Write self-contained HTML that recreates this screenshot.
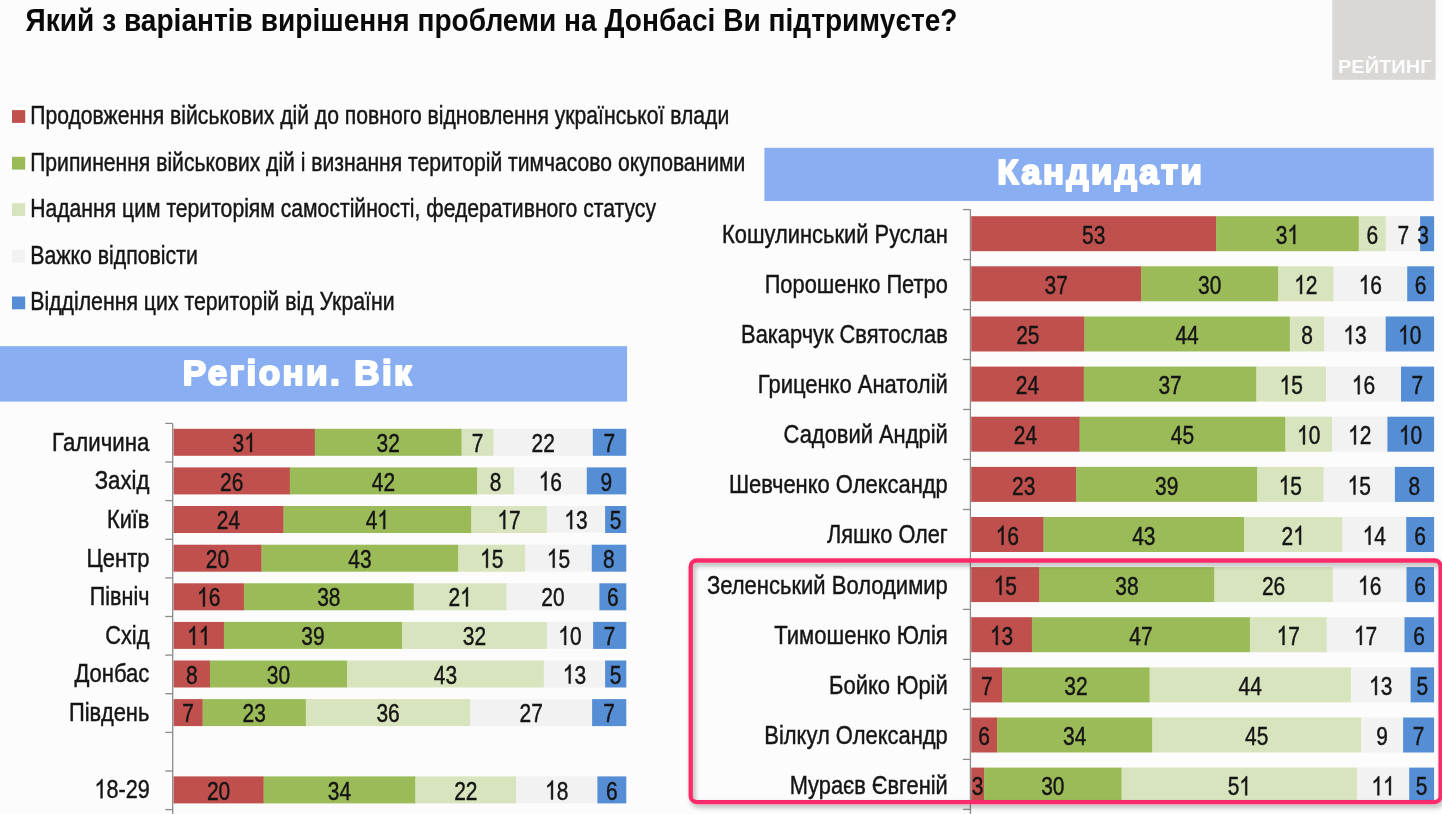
<!DOCTYPE html>
<html lang="uk"><head><meta charset="utf-8"><title>Chart</title>
<style>
html,body{margin:0;padding:0;background:#FCFCFC;}
body{width:1442px;height:814px;overflow:hidden;}
svg{display:block;font-family:"Liberation Sans",sans-serif;filter:blur(0.5px);}
</style></head><body>
<svg width="1442" height="814" viewBox="0 0 1442 814">
<defs>
<filter id="sh" x="-5%" y="-10%" width="110%" height="125%">
<feGaussianBlur in="SourceAlpha" stdDeviation="2.6"/>
<feOffset dx="1.5" dy="2.5" result="ob"/>
<feComponentTransfer><feFuncA type="linear" slope="0.32"/></feComponentTransfer>
<feMerge><feMergeNode/><feMergeNode in="SourceGraphic"/></feMerge>
</filter>
</defs>
<rect x="0" y="0" width="1442" height="814" fill="#FCFCFC"/>
<text x="25.5" y="31.2" font-weight="bold" font-size="32" textLength="932" lengthAdjust="spacingAndGlyphs" fill="#0a0a0a">Який з варіантів вирішення проблеми на Донбасі Ви підтримуєте?</text>
<rect x="1332.2" y="0" width="103.4" height="79.8" fill="#D9D8D6"/>
<text x="1338" y="73.3" font-weight="bold" font-size="18.6" textLength="93.5" lengthAdjust="spacingAndGlyphs" fill="#FBFBFB">РЕЙТИНГ</text>
<rect x="12" y="110.1" width="13.2" height="12.8" fill="#C0504D"/>
<text x="30.2" y="123.9" font-size="26" textLength="699.0" lengthAdjust="spacingAndGlyphs" fill="#151515" stroke="#151515" stroke-width="0.45">Продовження військових дій до повного відновлення української влади</text>
<rect x="12" y="156.8" width="13.2" height="12.8" fill="#9BBB59"/>
<text x="30.2" y="170.6" font-size="26" textLength="715.2" lengthAdjust="spacingAndGlyphs" fill="#151515" stroke="#151515" stroke-width="0.45">Припинення військових дій і визнання територій тимчасово окупованими</text>
<rect x="12" y="203.2" width="13.2" height="12.8" fill="#D7E4BD"/>
<text x="30.2" y="217.0" font-size="26" textLength="625.8" lengthAdjust="spacingAndGlyphs" fill="#151515" stroke="#151515" stroke-width="0.45">Надання цим територіям самостійності, федеративного статусу</text>
<rect x="12" y="249.8" width="13.2" height="12.8" fill="#F2F2F2"/>
<text x="30.2" y="263.6" font-size="26" textLength="167.6" lengthAdjust="spacingAndGlyphs" fill="#151515" stroke="#151515" stroke-width="0.45">Важко відповісти</text>
<rect x="12" y="296.5" width="13.2" height="12.8" fill="#558ED5"/>
<text x="30.2" y="310.3" font-size="26" textLength="364.4" lengthAdjust="spacingAndGlyphs" fill="#151515" stroke="#151515" stroke-width="0.45">Відділення цих територій від України</text>
<rect x="0" y="346.2" width="627.1" height="55.4" fill="#8AAEF2"/>
<text x="182.8" y="385.0" font-weight="bold" font-size="35" textLength="231.2" lengthAdjust="spacingAndGlyphs" letter-spacing="2.4" fill="#fff" stroke="#fff" stroke-width="2.1" stroke-linejoin="round">Регіони. Вік</text>
<rect x="764.4" y="147.8" width="669.4" height="53.2" fill="#8AAEF2"/>
<text x="997.2" y="184.0" font-weight="bold" font-size="35" textLength="207.0" lengthAdjust="spacingAndGlyphs" letter-spacing="2.4" fill="#fff" stroke="#fff" stroke-width="2.1" stroke-linejoin="round">Кандидати</text>
<rect x="173.5" y="428.8" width="141.6" height="27.0" fill="#C0504D"/>
<rect x="314.8" y="428.8" width="147.1" height="27.0" fill="#9BBB59"/>
<rect x="461.6" y="428.8" width="32.3" height="27.0" fill="#D7E4BD"/>
<rect x="493.6" y="428.8" width="99.5" height="27.0" fill="#F2F2F2"/>
<rect x="592.8" y="428.8" width="33.5" height="27.0" fill="#558ED5"/>
<text transform="translate(232.51,451.9) scale(0.79,1)" font-size="26.5" fill="#151515" stroke="#151515" stroke-width="0.45">3</text>
<path transform="translate(244.15,451.9) scale(0.01022,-0.01294)" d="M763 0H583V1147Q518 1085 412.5 1023T223 930V1104Q374 1175 487 1276T647 1472H763Z" fill="#151515" stroke="#151515" stroke-width="35"/>
<text transform="translate(376.56,451.9) scale(0.79,1)" font-size="26.5" fill="#151515" stroke="#151515" stroke-width="0.45">32</text>
<text transform="translate(471.78,451.9) scale(0.79,1)" font-size="26.5" fill="#151515" stroke="#151515" stroke-width="0.45">7</text>
<text transform="translate(531.56,451.9) scale(0.79,1)" font-size="26.5" fill="#151515" stroke="#151515" stroke-width="0.45">22</text>
<text transform="translate(603.58,451.9) scale(0.79,1)" font-size="26.5" fill="#151515" stroke="#151515" stroke-width="0.45">7</text>
<text x="52.1" y="450.6" font-size="26.5" textLength="97.3" lengthAdjust="spacingAndGlyphs" fill="#151515" stroke="#151515" stroke-width="0.45">Галичина</text>
<rect x="173.5" y="467.4" width="116.6" height="27.0" fill="#C0504D"/>
<rect x="289.8" y="467.4" width="187.7" height="27.0" fill="#9BBB59"/>
<rect x="477.2" y="467.4" width="37.0" height="27.0" fill="#D7E4BD"/>
<rect x="513.9" y="467.4" width="73.2" height="27.0" fill="#F2F2F2"/>
<rect x="586.8" y="467.4" width="39.5" height="27.0" fill="#558ED5"/>
<text transform="translate(220.01,490.5) scale(0.79,1)" font-size="26.5" fill="#151515" stroke="#151515" stroke-width="0.45">26</text>
<text transform="translate(371.86,490.5) scale(0.79,1)" font-size="26.5" fill="#151515" stroke="#151515" stroke-width="0.45">42</text>
<text transform="translate(489.73,490.5) scale(0.79,1)" font-size="26.5" fill="#151515" stroke="#151515" stroke-width="0.45">8</text>
<path transform="translate(538.71,490.5) scale(0.01022,-0.01294)" d="M763 0H583V1147Q518 1085 412.5 1023T223 930V1104Q374 1175 487 1276T647 1472H763Z" fill="#151515" stroke="#151515" stroke-width="35"/>
<text transform="translate(550.35,490.5) scale(0.79,1)" font-size="26.5" fill="#151515" stroke="#151515" stroke-width="0.45">6</text>
<text transform="translate(600.58,490.5) scale(0.79,1)" font-size="26.5" fill="#151515" stroke="#151515" stroke-width="0.45">9</text>
<text x="94.7" y="489.2" font-size="26.5" textLength="54.7" lengthAdjust="spacingAndGlyphs" fill="#151515" stroke="#151515" stroke-width="0.45">Захід</text>
<rect x="173.5" y="506.0" width="110.3" height="27.0" fill="#C0504D"/>
<rect x="283.5" y="506.0" width="188.1" height="27.0" fill="#9BBB59"/>
<rect x="471.3" y="506.0" width="75.8" height="27.0" fill="#D7E4BD"/>
<rect x="546.8" y="506.0" width="58.6" height="27.0" fill="#F2F2F2"/>
<rect x="605.1" y="506.0" width="21.2" height="27.0" fill="#558ED5"/>
<text transform="translate(216.86,529.1) scale(0.79,1)" font-size="26.5" fill="#151515" stroke="#151515" stroke-width="0.45">24</text>
<text transform="translate(365.76,529.1) scale(0.79,1)" font-size="26.5" fill="#151515" stroke="#151515" stroke-width="0.45">4</text>
<path transform="translate(377.40,529.1) scale(0.01022,-0.01294)" d="M763 0H583V1147Q518 1085 412.5 1023T223 930V1104Q374 1175 487 1276T647 1472H763Z" fill="#151515" stroke="#151515" stroke-width="35"/>
<path transform="translate(497.41,529.1) scale(0.01022,-0.01294)" d="M763 0H583V1147Q518 1085 412.5 1023T223 930V1104Q374 1175 487 1276T647 1472H763Z" fill="#151515" stroke="#151515" stroke-width="35"/>
<text transform="translate(509.05,529.1) scale(0.79,1)" font-size="26.5" fill="#151515" stroke="#151515" stroke-width="0.45">7</text>
<path transform="translate(564.31,529.1) scale(0.01022,-0.01294)" d="M763 0H583V1147Q518 1085 412.5 1023T223 930V1104Q374 1175 487 1276T647 1472H763Z" fill="#151515" stroke="#151515" stroke-width="35"/>
<text transform="translate(575.95,529.1) scale(0.79,1)" font-size="26.5" fill="#151515" stroke="#151515" stroke-width="0.45">3</text>
<text transform="translate(609.73,529.1) scale(0.79,1)" font-size="26.5" fill="#151515" stroke="#151515" stroke-width="0.45">5</text>
<text x="107.0" y="527.8" font-size="26.5" textLength="42.4" lengthAdjust="spacingAndGlyphs" fill="#151515" stroke="#151515" stroke-width="0.45">Київ</text>
<rect x="173.5" y="544.7" width="88.3" height="27.0" fill="#C0504D"/>
<rect x="261.5" y="544.7" width="197.1" height="27.0" fill="#9BBB59"/>
<rect x="458.3" y="544.7" width="67.2" height="27.0" fill="#D7E4BD"/>
<rect x="525.2" y="544.7" width="66.9" height="27.0" fill="#F2F2F2"/>
<rect x="591.8" y="544.7" width="34.5" height="27.0" fill="#558ED5"/>
<text transform="translate(205.86,567.8) scale(0.79,1)" font-size="26.5" fill="#151515" stroke="#151515" stroke-width="0.45">20</text>
<text transform="translate(348.26,567.8) scale(0.79,1)" font-size="26.5" fill="#151515" stroke="#151515" stroke-width="0.45">43</text>
<path transform="translate(480.11,567.8) scale(0.01022,-0.01294)" d="M763 0H583V1147Q518 1085 412.5 1023T223 930V1104Q374 1175 487 1276T647 1472H763Z" fill="#151515" stroke="#151515" stroke-width="35"/>
<text transform="translate(491.75,567.8) scale(0.79,1)" font-size="26.5" fill="#151515" stroke="#151515" stroke-width="0.45">5</text>
<path transform="translate(546.86,567.8) scale(0.01022,-0.01294)" d="M763 0H583V1147Q518 1085 412.5 1023T223 930V1104Q374 1175 487 1276T647 1472H763Z" fill="#151515" stroke="#151515" stroke-width="35"/>
<text transform="translate(558.50,567.8) scale(0.79,1)" font-size="26.5" fill="#151515" stroke="#151515" stroke-width="0.45">5</text>
<text transform="translate(603.08,567.8) scale(0.79,1)" font-size="26.5" fill="#151515" stroke="#151515" stroke-width="0.45">8</text>
<text x="86.6" y="566.5" font-size="26.5" textLength="62.8" lengthAdjust="spacingAndGlyphs" fill="#151515" stroke="#151515" stroke-width="0.45">Центр</text>
<rect x="173.5" y="583.3" width="70.7" height="27.0" fill="#C0504D"/>
<rect x="243.9" y="583.3" width="170.1" height="27.0" fill="#9BBB59"/>
<rect x="413.7" y="583.3" width="93.1" height="27.0" fill="#D7E4BD"/>
<rect x="506.5" y="583.3" width="93.2" height="27.0" fill="#F2F2F2"/>
<rect x="599.4" y="583.3" width="26.9" height="27.0" fill="#558ED5"/>
<path transform="translate(197.06,606.4) scale(0.01022,-0.01294)" d="M763 0H583V1147Q518 1085 412.5 1023T223 930V1104Q374 1175 487 1276T647 1472H763Z" fill="#151515" stroke="#151515" stroke-width="35"/>
<text transform="translate(208.70,606.4) scale(0.79,1)" font-size="26.5" fill="#151515" stroke="#151515" stroke-width="0.45">6</text>
<text transform="translate(317.16,606.4) scale(0.79,1)" font-size="26.5" fill="#151515" stroke="#151515" stroke-width="0.45">38</text>
<text transform="translate(448.46,606.4) scale(0.79,1)" font-size="26.5" fill="#151515" stroke="#151515" stroke-width="0.45">2</text>
<path transform="translate(460.10,606.4) scale(0.01022,-0.01294)" d="M763 0H583V1147Q518 1085 412.5 1023T223 930V1104Q374 1175 487 1276T647 1472H763Z" fill="#151515" stroke="#151515" stroke-width="35"/>
<text transform="translate(541.31,606.4) scale(0.79,1)" font-size="26.5" fill="#151515" stroke="#151515" stroke-width="0.45">20</text>
<text transform="translate(606.88,606.4) scale(0.79,1)" font-size="26.5" fill="#151515" stroke="#151515" stroke-width="0.45">6</text>
<text x="89.8" y="605.1" font-size="26.5" textLength="59.6" lengthAdjust="spacingAndGlyphs" fill="#151515" stroke="#151515" stroke-width="0.45">Північ</text>
<rect x="173.5" y="621.9" width="50.7" height="27.0" fill="#C0504D"/>
<rect x="223.9" y="621.9" width="178.4" height="27.0" fill="#9BBB59"/>
<rect x="402.0" y="621.9" width="145.1" height="27.0" fill="#D7E4BD"/>
<rect x="546.8" y="621.9" width="46.6" height="27.0" fill="#F2F2F2"/>
<rect x="593.1" y="621.9" width="33.2" height="27.0" fill="#558ED5"/>
<path transform="translate(187.06,645.0) scale(0.01022,-0.01294)" d="M763 0H583V1147Q518 1085 412.5 1023T223 930V1104Q374 1175 487 1276T647 1472H763Z" fill="#151515" stroke="#151515" stroke-width="35"/>
<path transform="translate(198.70,645.0) scale(0.01022,-0.01294)" d="M763 0H583V1147Q518 1085 412.5 1023T223 930V1104Q374 1175 487 1276T647 1472H763Z" fill="#151515" stroke="#151515" stroke-width="35"/>
<text transform="translate(301.31,645.0) scale(0.79,1)" font-size="26.5" fill="#151515" stroke="#151515" stroke-width="0.45">39</text>
<text transform="translate(462.76,645.0) scale(0.79,1)" font-size="26.5" fill="#151515" stroke="#151515" stroke-width="0.45">32</text>
<path transform="translate(558.31,645.0) scale(0.01022,-0.01294)" d="M763 0H583V1147Q518 1085 412.5 1023T223 930V1104Q374 1175 487 1276T647 1472H763Z" fill="#151515" stroke="#151515" stroke-width="35"/>
<text transform="translate(569.95,645.0) scale(0.79,1)" font-size="26.5" fill="#151515" stroke="#151515" stroke-width="0.45">0</text>
<text transform="translate(603.73,645.0) scale(0.79,1)" font-size="26.5" fill="#151515" stroke="#151515" stroke-width="0.45">7</text>
<text x="105.2" y="643.7" font-size="26.5" textLength="44.2" lengthAdjust="spacingAndGlyphs" fill="#151515" stroke="#151515" stroke-width="0.45">Схід</text>
<rect x="173.5" y="660.5" width="36.7" height="27.0" fill="#C0504D"/>
<rect x="209.9" y="660.5" width="137.5" height="27.0" fill="#9BBB59"/>
<rect x="347.1" y="660.5" width="197.0" height="27.0" fill="#D7E4BD"/>
<rect x="543.8" y="660.5" width="61.6" height="27.0" fill="#F2F2F2"/>
<rect x="605.1" y="660.5" width="21.2" height="27.0" fill="#558ED5"/>
<text transform="translate(185.88,683.6) scale(0.79,1)" font-size="26.5" fill="#151515" stroke="#151515" stroke-width="0.45">8</text>
<text transform="translate(266.86,683.6) scale(0.79,1)" font-size="26.5" fill="#151515" stroke="#151515" stroke-width="0.45">30</text>
<text transform="translate(433.81,683.6) scale(0.79,1)" font-size="26.5" fill="#151515" stroke="#151515" stroke-width="0.45">43</text>
<path transform="translate(562.81,683.6) scale(0.01022,-0.01294)" d="M763 0H583V1147Q518 1085 412.5 1023T223 930V1104Q374 1175 487 1276T647 1472H763Z" fill="#151515" stroke="#151515" stroke-width="35"/>
<text transform="translate(574.45,683.6) scale(0.79,1)" font-size="26.5" fill="#151515" stroke="#151515" stroke-width="0.45">3</text>
<text transform="translate(609.73,683.6) scale(0.79,1)" font-size="26.5" fill="#151515" stroke="#151515" stroke-width="0.45">5</text>
<text x="74.4" y="682.3" font-size="26.5" textLength="75.0" lengthAdjust="spacingAndGlyphs" fill="#151515" stroke="#151515" stroke-width="0.45">Донбас</text>
<rect x="173.5" y="699.1" width="29.4" height="27.0" fill="#C0504D"/>
<rect x="202.6" y="699.1" width="103.5" height="27.0" fill="#9BBB59"/>
<rect x="305.8" y="699.1" width="164.8" height="27.0" fill="#D7E4BD"/>
<rect x="470.3" y="699.1" width="122.1" height="27.0" fill="#F2F2F2"/>
<rect x="592.1" y="699.1" width="34.2" height="27.0" fill="#558ED5"/>
<text transform="translate(182.23,722.2) scale(0.79,1)" font-size="26.5" fill="#151515" stroke="#151515" stroke-width="0.45">7</text>
<text transform="translate(242.56,722.2) scale(0.79,1)" font-size="26.5" fill="#151515" stroke="#151515" stroke-width="0.45">23</text>
<text transform="translate(376.41,722.2) scale(0.79,1)" font-size="26.5" fill="#151515" stroke="#151515" stroke-width="0.45">36</text>
<text transform="translate(519.56,722.2) scale(0.79,1)" font-size="26.5" fill="#151515" stroke="#151515" stroke-width="0.45">27</text>
<text transform="translate(603.23,722.2) scale(0.79,1)" font-size="26.5" fill="#151515" stroke="#151515" stroke-width="0.45">7</text>
<text x="68.9" y="720.9" font-size="26.5" textLength="80.5" lengthAdjust="spacingAndGlyphs" fill="#151515" stroke="#151515" stroke-width="0.45">Південь</text>
<rect x="173.5" y="776.4" width="90.4" height="27.0" fill="#C0504D"/>
<rect x="263.6" y="776.4" width="152.1" height="27.0" fill="#9BBB59"/>
<rect x="415.4" y="776.4" width="101.1" height="27.0" fill="#D7E4BD"/>
<rect x="516.2" y="776.4" width="81.5" height="27.0" fill="#F2F2F2"/>
<rect x="597.4" y="776.4" width="28.9" height="27.0" fill="#558ED5"/>
<text transform="translate(206.91,799.5) scale(0.79,1)" font-size="26.5" fill="#151515" stroke="#151515" stroke-width="0.45">20</text>
<text transform="translate(327.86,799.5) scale(0.79,1)" font-size="26.5" fill="#151515" stroke="#151515" stroke-width="0.45">34</text>
<text transform="translate(454.16,799.5) scale(0.79,1)" font-size="26.5" fill="#151515" stroke="#151515" stroke-width="0.45">22</text>
<path transform="translate(545.16,799.5) scale(0.01022,-0.01294)" d="M763 0H583V1147Q518 1085 412.5 1023T223 930V1104Q374 1175 487 1276T647 1472H763Z" fill="#151515" stroke="#151515" stroke-width="35"/>
<text transform="translate(556.80,799.5) scale(0.79,1)" font-size="26.5" fill="#151515" stroke="#151515" stroke-width="0.45">8</text>
<text transform="translate(605.88,799.5) scale(0.79,1)" font-size="26.5" fill="#151515" stroke="#151515" stroke-width="0.45">6</text>
<path transform="translate(94.46,798.2) scale(0.01055,-0.01294)" d="M763 0H583V1147Q518 1085 412.5 1023T223 930V1104Q374 1175 487 1276T647 1472H763Z" fill="#151515" stroke="#151515" stroke-width="35"/>
<text transform="translate(106.47,798.2) scale(0.815,1)" font-size="26.5" fill="#151515" stroke="#151515" stroke-width="0.45">8-29</text>
<line x1="172.7" y1="423.4" x2="172.7" y2="814" stroke="#8C8C8C" stroke-width="1.3"/>
<line x1="165.2" y1="423.4" x2="172.7" y2="423.4" stroke="#8C8C8C" stroke-width="1.3"/>
<line x1="165.2" y1="462.0" x2="172.7" y2="462.0" stroke="#8C8C8C" stroke-width="1.3"/>
<line x1="165.2" y1="500.6" x2="172.7" y2="500.6" stroke="#8C8C8C" stroke-width="1.3"/>
<line x1="165.2" y1="539.3" x2="172.7" y2="539.3" stroke="#8C8C8C" stroke-width="1.3"/>
<line x1="165.2" y1="577.9" x2="172.7" y2="577.9" stroke="#8C8C8C" stroke-width="1.3"/>
<line x1="165.2" y1="616.5" x2="172.7" y2="616.5" stroke="#8C8C8C" stroke-width="1.3"/>
<line x1="165.2" y1="655.1" x2="172.7" y2="655.1" stroke="#8C8C8C" stroke-width="1.3"/>
<line x1="165.2" y1="693.7" x2="172.7" y2="693.7" stroke="#8C8C8C" stroke-width="1.3"/>
<line x1="165.2" y1="732.4" x2="172.7" y2="732.4" stroke="#8C8C8C" stroke-width="1.3"/>
<line x1="165.2" y1="771.0" x2="172.7" y2="771.0" stroke="#8C8C8C" stroke-width="1.3"/>
<line x1="165.2" y1="809.6" x2="172.7" y2="809.6" stroke="#8C8C8C" stroke-width="1.3"/>
<rect x="971.2" y="216.2" width="245.2" height="35.0" fill="#C0504D"/>
<rect x="1216.1" y="216.2" width="142.9" height="35.0" fill="#9BBB59"/>
<rect x="1358.7" y="216.2" width="27.3" height="35.0" fill="#D7E4BD"/>
<rect x="1385.7" y="216.2" width="34.7" height="35.0" fill="#F2F2F2"/>
<rect x="1420.1" y="216.2" width="14.0" height="35.0" fill="#558ED5"/>
<text transform="translate(1082.01,243.9) scale(0.79,1)" font-size="26.5" fill="#151515" stroke="#151515" stroke-width="0.45">53</text>
<text transform="translate(1275.76,243.9) scale(0.79,1)" font-size="26.5" fill="#151515" stroke="#151515" stroke-width="0.45">3</text>
<path transform="translate(1287.40,243.9) scale(0.01022,-0.01294)" d="M763 0H583V1147Q518 1085 412.5 1023T223 930V1104Q374 1175 487 1276T647 1472H763Z" fill="#151515" stroke="#151515" stroke-width="35"/>
<text transform="translate(1366.38,243.9) scale(0.79,1)" font-size="26.5" fill="#151515" stroke="#151515" stroke-width="0.45">6</text>
<text transform="translate(1397.58,243.9) scale(0.79,1)" font-size="26.5" fill="#151515" stroke="#151515" stroke-width="0.45">7</text>
<text transform="translate(1417.13,243.9) scale(0.79,1)" font-size="26.5" fill="#151515" stroke="#151515" stroke-width="0.45">3</text>
<text x="722.1" y="242.6" font-size="26.5" textLength="225.7" lengthAdjust="spacingAndGlyphs" fill="#151515" stroke="#151515" stroke-width="0.45">Кошулинський Руслан</text>
<rect x="971.2" y="266.3" width="170.2" height="35.0" fill="#C0504D"/>
<rect x="1141.1" y="266.3" width="137.4" height="35.0" fill="#9BBB59"/>
<rect x="1278.2" y="266.3" width="55.6" height="35.0" fill="#D7E4BD"/>
<rect x="1333.5" y="266.3" width="74.0" height="35.0" fill="#F2F2F2"/>
<rect x="1407.2" y="266.3" width="26.9" height="35.0" fill="#558ED5"/>
<text transform="translate(1044.51,294.0) scale(0.79,1)" font-size="26.5" fill="#151515" stroke="#151515" stroke-width="0.45">37</text>
<text transform="translate(1198.01,294.0) scale(0.79,1)" font-size="26.5" fill="#151515" stroke="#151515" stroke-width="0.45">30</text>
<path transform="translate(1294.21,294.0) scale(0.01022,-0.01294)" d="M763 0H583V1147Q518 1085 412.5 1023T223 930V1104Q374 1175 487 1276T647 1472H763Z" fill="#151515" stroke="#151515" stroke-width="35"/>
<text transform="translate(1305.85,294.0) scale(0.79,1)" font-size="26.5" fill="#151515" stroke="#151515" stroke-width="0.45">2</text>
<path transform="translate(1358.71,294.0) scale(0.01022,-0.01294)" d="M763 0H583V1147Q518 1085 412.5 1023T223 930V1104Q374 1175 487 1276T647 1472H763Z" fill="#151515" stroke="#151515" stroke-width="35"/>
<text transform="translate(1370.35,294.0) scale(0.79,1)" font-size="26.5" fill="#151515" stroke="#151515" stroke-width="0.45">6</text>
<text transform="translate(1414.68,294.0) scale(0.79,1)" font-size="26.5" fill="#151515" stroke="#151515" stroke-width="0.45">6</text>
<text x="764.7" y="292.7" font-size="26.5" textLength="183.1" lengthAdjust="spacingAndGlyphs" fill="#151515" stroke="#151515" stroke-width="0.45">Порошенко Петро</text>
<rect x="971.2" y="316.5" width="113.5" height="35.0" fill="#C0504D"/>
<rect x="1084.4" y="316.5" width="205.7" height="35.0" fill="#9BBB59"/>
<rect x="1289.8" y="316.5" width="34.8" height="35.0" fill="#D7E4BD"/>
<rect x="1324.3" y="316.5" width="61.7" height="35.0" fill="#F2F2F2"/>
<rect x="1385.7" y="316.5" width="48.4" height="35.0" fill="#558ED5"/>
<text transform="translate(1016.16,344.2) scale(0.79,1)" font-size="26.5" fill="#151515" stroke="#151515" stroke-width="0.45">25</text>
<text transform="translate(1175.46,344.2) scale(0.79,1)" font-size="26.5" fill="#151515" stroke="#151515" stroke-width="0.45">44</text>
<text transform="translate(1301.23,344.2) scale(0.79,1)" font-size="26.5" fill="#151515" stroke="#151515" stroke-width="0.45">8</text>
<path transform="translate(1343.36,344.2) scale(0.01022,-0.01294)" d="M763 0H583V1147Q518 1085 412.5 1023T223 930V1104Q374 1175 487 1276T647 1472H763Z" fill="#151515" stroke="#151515" stroke-width="35"/>
<text transform="translate(1355.00,344.2) scale(0.79,1)" font-size="26.5" fill="#151515" stroke="#151515" stroke-width="0.45">3</text>
<path transform="translate(1398.11,344.2) scale(0.01022,-0.01294)" d="M763 0H583V1147Q518 1085 412.5 1023T223 930V1104Q374 1175 487 1276T647 1472H763Z" fill="#151515" stroke="#151515" stroke-width="35"/>
<text transform="translate(1409.75,344.2) scale(0.79,1)" font-size="26.5" fill="#151515" stroke="#151515" stroke-width="0.45">0</text>
<text x="741.1" y="342.9" font-size="26.5" textLength="206.7" lengthAdjust="spacingAndGlyphs" fill="#151515" stroke="#151515" stroke-width="0.45">Вакарчук Святослав</text>
<rect x="971.2" y="366.6" width="112.8" height="35.0" fill="#C0504D"/>
<rect x="1083.7" y="366.6" width="173.0" height="35.0" fill="#9BBB59"/>
<rect x="1256.4" y="366.6" width="69.9" height="35.0" fill="#D7E4BD"/>
<rect x="1326.0" y="366.6" width="75.3" height="35.0" fill="#F2F2F2"/>
<rect x="1401.0" y="366.6" width="33.1" height="35.0" fill="#558ED5"/>
<text transform="translate(1015.81,394.3) scale(0.79,1)" font-size="26.5" fill="#151515" stroke="#151515" stroke-width="0.45">24</text>
<text transform="translate(1158.41,394.3) scale(0.79,1)" font-size="26.5" fill="#151515" stroke="#151515" stroke-width="0.45">37</text>
<path transform="translate(1279.56,394.3) scale(0.01022,-0.01294)" d="M763 0H583V1147Q518 1085 412.5 1023T223 930V1104Q374 1175 487 1276T647 1472H763Z" fill="#151515" stroke="#151515" stroke-width="35"/>
<text transform="translate(1291.20,394.3) scale(0.79,1)" font-size="26.5" fill="#151515" stroke="#151515" stroke-width="0.45">5</text>
<path transform="translate(1351.86,394.3) scale(0.01022,-0.01294)" d="M763 0H583V1147Q518 1085 412.5 1023T223 930V1104Q374 1175 487 1276T647 1472H763Z" fill="#151515" stroke="#151515" stroke-width="35"/>
<text transform="translate(1363.50,394.3) scale(0.79,1)" font-size="26.5" fill="#151515" stroke="#151515" stroke-width="0.45">6</text>
<text transform="translate(1411.58,394.3) scale(0.79,1)" font-size="26.5" fill="#151515" stroke="#151515" stroke-width="0.45">7</text>
<text x="757.8" y="393.0" font-size="26.5" textLength="190.0" lengthAdjust="spacingAndGlyphs" fill="#151515" stroke="#151515" stroke-width="0.45">Гриценко Анатолій</text>
<rect x="971.2" y="416.7" width="108.7" height="35.0" fill="#C0504D"/>
<rect x="1079.6" y="416.7" width="206.1" height="35.0" fill="#9BBB59"/>
<rect x="1285.4" y="416.7" width="47.0" height="35.0" fill="#D7E4BD"/>
<rect x="1332.1" y="416.7" width="55.6" height="35.0" fill="#F2F2F2"/>
<rect x="1387.4" y="416.7" width="46.7" height="35.0" fill="#558ED5"/>
<text transform="translate(1013.76,444.4) scale(0.79,1)" font-size="26.5" fill="#151515" stroke="#151515" stroke-width="0.45">24</text>
<text transform="translate(1170.86,444.4) scale(0.79,1)" font-size="26.5" fill="#151515" stroke="#151515" stroke-width="0.45">45</text>
<path transform="translate(1297.11,444.4) scale(0.01022,-0.01294)" d="M763 0H583V1147Q518 1085 412.5 1023T223 930V1104Q374 1175 487 1276T647 1472H763Z" fill="#151515" stroke="#151515" stroke-width="35"/>
<text transform="translate(1308.75,444.4) scale(0.79,1)" font-size="26.5" fill="#151515" stroke="#151515" stroke-width="0.45">0</text>
<path transform="translate(1348.11,444.4) scale(0.01022,-0.01294)" d="M763 0H583V1147Q518 1085 412.5 1023T223 930V1104Q374 1175 487 1276T647 1472H763Z" fill="#151515" stroke="#151515" stroke-width="35"/>
<text transform="translate(1359.75,444.4) scale(0.79,1)" font-size="26.5" fill="#151515" stroke="#151515" stroke-width="0.45">2</text>
<path transform="translate(1398.96,444.4) scale(0.01022,-0.01294)" d="M763 0H583V1147Q518 1085 412.5 1023T223 930V1104Q374 1175 487 1276T647 1472H763Z" fill="#151515" stroke="#151515" stroke-width="35"/>
<text transform="translate(1410.60,444.4) scale(0.79,1)" font-size="26.5" fill="#151515" stroke="#151515" stroke-width="0.45">0</text>
<text x="783.6" y="443.1" font-size="26.5" textLength="164.2" lengthAdjust="spacingAndGlyphs" fill="#151515" stroke="#151515" stroke-width="0.45">Садовий Андрій</text>
<rect x="971.2" y="466.9" width="105.3" height="35.0" fill="#C0504D"/>
<rect x="1076.2" y="466.9" width="181.2" height="35.0" fill="#9BBB59"/>
<rect x="1257.1" y="466.9" width="66.8" height="35.0" fill="#D7E4BD"/>
<rect x="1323.6" y="466.9" width="71.6" height="35.0" fill="#F2F2F2"/>
<rect x="1394.9" y="466.9" width="39.2" height="35.0" fill="#558ED5"/>
<text transform="translate(1012.06,494.6) scale(0.79,1)" font-size="26.5" fill="#151515" stroke="#151515" stroke-width="0.45">23</text>
<text transform="translate(1155.01,494.6) scale(0.79,1)" font-size="26.5" fill="#151515" stroke="#151515" stroke-width="0.45">39</text>
<path transform="translate(1278.71,494.6) scale(0.01022,-0.01294)" d="M763 0H583V1147Q518 1085 412.5 1023T223 930V1104Q374 1175 487 1276T647 1472H763Z" fill="#151515" stroke="#151515" stroke-width="35"/>
<text transform="translate(1290.35,494.6) scale(0.79,1)" font-size="26.5" fill="#151515" stroke="#151515" stroke-width="0.45">5</text>
<path transform="translate(1347.61,494.6) scale(0.01022,-0.01294)" d="M763 0H583V1147Q518 1085 412.5 1023T223 930V1104Q374 1175 487 1276T647 1472H763Z" fill="#151515" stroke="#151515" stroke-width="35"/>
<text transform="translate(1359.25,494.6) scale(0.79,1)" font-size="26.5" fill="#151515" stroke="#151515" stroke-width="0.45">5</text>
<text transform="translate(1408.53,494.6) scale(0.79,1)" font-size="26.5" fill="#151515" stroke="#151515" stroke-width="0.45">8</text>
<text x="729.0" y="493.2" font-size="26.5" textLength="218.8" lengthAdjust="spacingAndGlyphs" fill="#151515" stroke="#151515" stroke-width="0.45">Шевченко Олександр</text>
<rect x="971.2" y="517.0" width="72.6" height="35.0" fill="#C0504D"/>
<rect x="1043.5" y="517.0" width="200.9" height="35.0" fill="#9BBB59"/>
<rect x="1244.1" y="517.0" width="98.6" height="35.0" fill="#D7E4BD"/>
<rect x="1342.4" y="517.0" width="64.1" height="35.0" fill="#F2F2F2"/>
<rect x="1406.2" y="517.0" width="27.9" height="35.0" fill="#558ED5"/>
<path transform="translate(995.71,544.7) scale(0.01022,-0.01294)" d="M763 0H583V1147Q518 1085 412.5 1023T223 930V1104Q374 1175 487 1276T647 1472H763Z" fill="#151515" stroke="#151515" stroke-width="35"/>
<text transform="translate(1007.35,544.7) scale(0.79,1)" font-size="26.5" fill="#151515" stroke="#151515" stroke-width="0.45">6</text>
<text transform="translate(1132.16,544.7) scale(0.79,1)" font-size="26.5" fill="#151515" stroke="#151515" stroke-width="0.45">43</text>
<text transform="translate(1281.61,544.7) scale(0.79,1)" font-size="26.5" fill="#151515" stroke="#151515" stroke-width="0.45">2</text>
<path transform="translate(1293.25,544.7) scale(0.01022,-0.01294)" d="M763 0H583V1147Q518 1085 412.5 1023T223 930V1104Q374 1175 487 1276T647 1472H763Z" fill="#151515" stroke="#151515" stroke-width="35"/>
<path transform="translate(1362.66,544.7) scale(0.01022,-0.01294)" d="M763 0H583V1147Q518 1085 412.5 1023T223 930V1104Q374 1175 487 1276T647 1472H763Z" fill="#151515" stroke="#151515" stroke-width="35"/>
<text transform="translate(1374.30,544.7) scale(0.79,1)" font-size="26.5" fill="#151515" stroke="#151515" stroke-width="0.45">4</text>
<text transform="translate(1414.18,544.7) scale(0.79,1)" font-size="26.5" fill="#151515" stroke="#151515" stroke-width="0.45">6</text>
<text x="827.1" y="543.4" font-size="26.5" textLength="120.7" lengthAdjust="spacingAndGlyphs" fill="#151515" stroke="#151515" stroke-width="0.45">Ляшко Олег</text>
<rect x="971.2" y="567.1" width="68.5" height="35.0" fill="#C0504D"/>
<rect x="1039.4" y="567.1" width="175.3" height="35.0" fill="#9BBB59"/>
<rect x="1214.4" y="567.1" width="118.7" height="35.0" fill="#D7E4BD"/>
<rect x="1332.8" y="567.1" width="74.0" height="35.0" fill="#F2F2F2"/>
<rect x="1406.5" y="567.1" width="27.6" height="35.0" fill="#558ED5"/>
<path transform="translate(993.66,594.8) scale(0.01022,-0.01294)" d="M763 0H583V1147Q518 1085 412.5 1023T223 930V1104Q374 1175 487 1276T647 1472H763Z" fill="#151515" stroke="#151515" stroke-width="35"/>
<text transform="translate(1005.30,594.8) scale(0.79,1)" font-size="26.5" fill="#151515" stroke="#151515" stroke-width="0.45">5</text>
<text transform="translate(1115.26,594.8) scale(0.79,1)" font-size="26.5" fill="#151515" stroke="#151515" stroke-width="0.45">38</text>
<text transform="translate(1261.96,594.8) scale(0.79,1)" font-size="26.5" fill="#151515" stroke="#151515" stroke-width="0.45">26</text>
<path transform="translate(1358.01,594.8) scale(0.01022,-0.01294)" d="M763 0H583V1147Q518 1085 412.5 1023T223 930V1104Q374 1175 487 1276T647 1472H763Z" fill="#151515" stroke="#151515" stroke-width="35"/>
<text transform="translate(1369.65,594.8) scale(0.79,1)" font-size="26.5" fill="#151515" stroke="#151515" stroke-width="0.45">6</text>
<text transform="translate(1414.33,594.8) scale(0.79,1)" font-size="26.5" fill="#151515" stroke="#151515" stroke-width="0.45">6</text>
<text x="706.9" y="593.5" font-size="26.5" textLength="240.9" lengthAdjust="spacingAndGlyphs" fill="#151515" stroke="#151515" stroke-width="0.45">Зеленський Володимир</text>
<rect x="971.2" y="617.2" width="61.0" height="35.0" fill="#C0504D"/>
<rect x="1031.9" y="617.2" width="218.3" height="35.0" fill="#9BBB59"/>
<rect x="1249.9" y="617.2" width="77.1" height="35.0" fill="#D7E4BD"/>
<rect x="1326.7" y="617.2" width="78.1" height="35.0" fill="#F2F2F2"/>
<rect x="1404.5" y="617.2" width="29.6" height="35.0" fill="#558ED5"/>
<path transform="translate(989.91,644.9) scale(0.01022,-0.01294)" d="M763 0H583V1147Q518 1085 412.5 1023T223 930V1104Q374 1175 487 1276T647 1472H763Z" fill="#151515" stroke="#151515" stroke-width="35"/>
<text transform="translate(1001.55,644.9) scale(0.79,1)" font-size="26.5" fill="#151515" stroke="#151515" stroke-width="0.45">3</text>
<text transform="translate(1129.26,644.9) scale(0.79,1)" font-size="26.5" fill="#151515" stroke="#151515" stroke-width="0.45">47</text>
<path transform="translate(1276.66,644.9) scale(0.01022,-0.01294)" d="M763 0H583V1147Q518 1085 412.5 1023T223 930V1104Q374 1175 487 1276T647 1472H763Z" fill="#151515" stroke="#151515" stroke-width="35"/>
<text transform="translate(1288.30,644.9) scale(0.79,1)" font-size="26.5" fill="#151515" stroke="#151515" stroke-width="0.45">7</text>
<path transform="translate(1353.96,644.9) scale(0.01022,-0.01294)" d="M763 0H583V1147Q518 1085 412.5 1023T223 930V1104Q374 1175 487 1276T647 1472H763Z" fill="#151515" stroke="#151515" stroke-width="35"/>
<text transform="translate(1365.60,644.9) scale(0.79,1)" font-size="26.5" fill="#151515" stroke="#151515" stroke-width="0.45">7</text>
<text transform="translate(1413.33,644.9) scale(0.79,1)" font-size="26.5" fill="#151515" stroke="#151515" stroke-width="0.45">6</text>
<text x="774.3" y="643.6" font-size="26.5" textLength="173.5" lengthAdjust="spacingAndGlyphs" fill="#151515" stroke="#151515" stroke-width="0.45">Тимошенко Юлія</text>
<rect x="971.2" y="667.4" width="31.3" height="35.0" fill="#C0504D"/>
<rect x="1002.2" y="667.4" width="147.7" height="35.0" fill="#9BBB59"/>
<rect x="1149.6" y="667.4" width="201.6" height="35.0" fill="#D7E4BD"/>
<rect x="1350.9" y="667.4" width="60.0" height="35.0" fill="#F2F2F2"/>
<rect x="1410.6" y="667.4" width="23.5" height="35.0" fill="#558ED5"/>
<text transform="translate(980.88,695.1) scale(0.79,1)" font-size="26.5" fill="#151515" stroke="#151515" stroke-width="0.45">7</text>
<text transform="translate(1064.26,695.1) scale(0.79,1)" font-size="26.5" fill="#151515" stroke="#151515" stroke-width="0.45">32</text>
<text transform="translate(1238.61,695.1) scale(0.79,1)" font-size="26.5" fill="#151515" stroke="#151515" stroke-width="0.45">44</text>
<path transform="translate(1369.11,695.1) scale(0.01022,-0.01294)" d="M763 0H583V1147Q518 1085 412.5 1023T223 930V1104Q374 1175 487 1276T647 1472H763Z" fill="#151515" stroke="#151515" stroke-width="35"/>
<text transform="translate(1380.75,695.1) scale(0.79,1)" font-size="26.5" fill="#151515" stroke="#151515" stroke-width="0.45">3</text>
<text transform="translate(1416.38,695.1) scale(0.79,1)" font-size="26.5" fill="#151515" stroke="#151515" stroke-width="0.45">5</text>
<text x="829.0" y="693.8" font-size="26.5" textLength="118.8" lengthAdjust="spacingAndGlyphs" fill="#151515" stroke="#151515" stroke-width="0.45">Бойко Юрій</text>
<rect x="971.2" y="717.5" width="26.2" height="35.0" fill="#C0504D"/>
<rect x="997.1" y="717.5" width="155.5" height="35.0" fill="#9BBB59"/>
<rect x="1152.3" y="717.5" width="209.1" height="35.0" fill="#D7E4BD"/>
<rect x="1361.1" y="717.5" width="42.3" height="35.0" fill="#F2F2F2"/>
<rect x="1403.1" y="717.5" width="31.0" height="35.0" fill="#558ED5"/>
<text transform="translate(978.33,745.2) scale(0.79,1)" font-size="26.5" fill="#151515" stroke="#151515" stroke-width="0.45">6</text>
<text transform="translate(1063.06,745.2) scale(0.79,1)" font-size="26.5" fill="#151515" stroke="#151515" stroke-width="0.45">34</text>
<text transform="translate(1245.06,745.2) scale(0.79,1)" font-size="26.5" fill="#151515" stroke="#151515" stroke-width="0.45">45</text>
<text transform="translate(1376.28,745.2) scale(0.79,1)" font-size="26.5" fill="#151515" stroke="#151515" stroke-width="0.45">9</text>
<text transform="translate(1412.63,745.2) scale(0.79,1)" font-size="26.5" fill="#151515" stroke="#151515" stroke-width="0.45">7</text>
<text x="764.3" y="743.9" font-size="26.5" textLength="183.5" lengthAdjust="spacingAndGlyphs" fill="#151515" stroke="#151515" stroke-width="0.45">Вілкул Олександр</text>
<rect x="971.2" y="767.6" width="13.2" height="35.0" fill="#C0504D"/>
<rect x="984.1" y="767.6" width="137.8" height="35.0" fill="#9BBB59"/>
<rect x="1121.6" y="767.6" width="235.7" height="35.0" fill="#D7E4BD"/>
<rect x="1357.0" y="767.6" width="52.5" height="35.0" fill="#F2F2F2"/>
<rect x="1409.2" y="767.6" width="24.9" height="35.0" fill="#558ED5"/>
<text transform="translate(971.83,795.3) scale(0.79,1)" font-size="26.5" fill="#151515" stroke="#151515" stroke-width="0.45">3</text>
<text transform="translate(1041.21,795.3) scale(0.79,1)" font-size="26.5" fill="#151515" stroke="#151515" stroke-width="0.45">30</text>
<text transform="translate(1227.66,795.3) scale(0.79,1)" font-size="26.5" fill="#151515" stroke="#151515" stroke-width="0.45">5</text>
<path transform="translate(1239.30,795.3) scale(0.01022,-0.01294)" d="M763 0H583V1147Q518 1085 412.5 1023T223 930V1104Q374 1175 487 1276T647 1472H763Z" fill="#151515" stroke="#151515" stroke-width="35"/>
<path transform="translate(1371.46,795.3) scale(0.01022,-0.01294)" d="M763 0H583V1147Q518 1085 412.5 1023T223 930V1104Q374 1175 487 1276T647 1472H763Z" fill="#151515" stroke="#151515" stroke-width="35"/>
<path transform="translate(1383.10,795.3) scale(0.01022,-0.01294)" d="M763 0H583V1147Q518 1085 412.5 1023T223 930V1104Q374 1175 487 1276T647 1472H763Z" fill="#151515" stroke="#151515" stroke-width="35"/>
<text transform="translate(1415.68,795.3) scale(0.79,1)" font-size="26.5" fill="#151515" stroke="#151515" stroke-width="0.45">5</text>
<text x="789.7" y="794.0" font-size="26.5" textLength="158.1" lengthAdjust="spacingAndGlyphs" fill="#151515" stroke="#151515" stroke-width="0.45">Мураєв Євгеній</text>
<line x1="970.4" y1="209.6" x2="970.4" y2="814" stroke="#8C8C8C" stroke-width="1.3"/>
<line x1="962.9" y1="209.6" x2="970.4" y2="209.6" stroke="#8C8C8C" stroke-width="1.3"/>
<line x1="962.9" y1="259.6" x2="970.4" y2="259.6" stroke="#8C8C8C" stroke-width="1.3"/>
<line x1="962.9" y1="309.6" x2="970.4" y2="309.6" stroke="#8C8C8C" stroke-width="1.3"/>
<line x1="962.9" y1="359.5" x2="970.4" y2="359.5" stroke="#8C8C8C" stroke-width="1.3"/>
<line x1="962.9" y1="409.5" x2="970.4" y2="409.5" stroke="#8C8C8C" stroke-width="1.3"/>
<line x1="962.9" y1="459.5" x2="970.4" y2="459.5" stroke="#8C8C8C" stroke-width="1.3"/>
<line x1="962.9" y1="509.5" x2="970.4" y2="509.5" stroke="#8C8C8C" stroke-width="1.3"/>
<line x1="962.9" y1="559.5" x2="970.4" y2="559.5" stroke="#8C8C8C" stroke-width="1.3"/>
<line x1="962.9" y1="609.4" x2="970.4" y2="609.4" stroke="#8C8C8C" stroke-width="1.3"/>
<line x1="962.9" y1="659.4" x2="970.4" y2="659.4" stroke="#8C8C8C" stroke-width="1.3"/>
<line x1="962.9" y1="709.4" x2="970.4" y2="709.4" stroke="#8C8C8C" stroke-width="1.3"/>
<line x1="962.9" y1="759.4" x2="970.4" y2="759.4" stroke="#8C8C8C" stroke-width="1.3"/>
<line x1="962.9" y1="809.4" x2="970.4" y2="809.4" stroke="#8C8C8C" stroke-width="1.3"/>
<rect x="690.7" y="560.5" width="749.9" height="241.6" rx="6" ry="6" fill="none" stroke="#FB2B69" stroke-width="4.3" filter="url(#sh)"/>
</svg>
</body></html>
